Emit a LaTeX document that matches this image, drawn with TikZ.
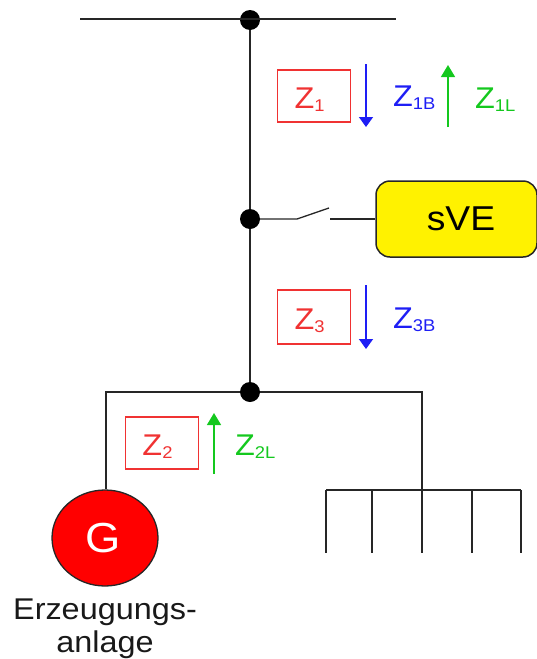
\documentclass[tikz,border=0pt]{standalone}
\usepackage{fontspec}
\setmainfont[FakeStretch=1.08]{Liberation Sans}
\usetikzlibrary{shapes.geometric,arrows.meta}
\definecolor{zred}{RGB}{240,50,50}
\definecolor{zblue}{RGB}{30,30,245}
\definecolor{zgreen}{RGB}{20,200,30}
\tikzset{
  x=1pt,y=-1pt,
  wire/.style={draw=black!85,line width=1.7pt},
  thin wire/.style={draw=black!85,line width=1.3pt},
  dotnode/.style={circle,fill=black,inner sep=0pt,minimum size=20pt},
  zbox/.style={draw=zred,line width=1.3pt,minimum width=73pt,minimum height=52pt,inner sep=0pt,text=zred,font=\fontsize{30}{32}\selectfont},
  bluearrow/.style={draw=zblue,line width=1.5pt,-{Triangle[width=14pt,length=10pt]}},
  greenarrow/.style={draw=zgreen,line width=1.5pt,-{Triangle[width=14pt,length=12pt]}},
  zlabel/.style={inner sep=0pt,font=\fontsize{30}{32}\selectfont},
}
\newcommand{\zsub}[1]{Z\raisebox{-3pt}{\fontsize{17}{19}\selectfont #1}}
\newcommand{\zin}[1]{\raisebox{-12pt}[0pt][0pt]{\zsub{#1}}\kern9pt}
\begin{document}
\begin{tikzpicture}
\useasboundingbox (0,0) rectangle (537,659);
% bus coordinates
\coordinate (busL) at (80,19);
\coordinate (busR) at (396,19);
\node[dotnode] (n1) at (250,20) {};
\node[dotnode] (n2) at (250,219) {};
\node[dotnode] (n3) at (250,392) {};
\draw[wire] (busL) -- (busR);
\draw[wire] (n1) -- (n2);
\draw[wire] (n2) -- (n3);
% switch
\node[draw=black!85,line width=1.5pt,fill=yellow,rounded corners=14pt,minimum width=161pt,minimum height=76pt,inner sep=0pt,font=\fontsize{34.5}{36}\selectfont] (sve) at (456.5,219) {\kern9pt sVE};
\coordinate (swA) at (297,219);
\coordinate (swB) at (329,208);
\coordinate (swC) at (330,219);
\draw[thin wire] (n2) -- (swA) -- (swB);
\draw[thin wire] (swC) -- (sve.west);
% impedances
\node[zbox] (z1) at (314,96) {\zin{1}};
\node[zbox,minimum height=54pt] (z3) at (314,317) {\zin{3}};
\node[zbox] (z2) at (162,443) {\zin{2}};
% arrows
\coordinate (a1s) at (366,64); \coordinate (a1e) at (366,127);
\coordinate (a2s) at (448,127); \coordinate (a2e) at (448,65);
\coordinate (a3s) at (366,285); \coordinate (a3e) at (366,349);
\coordinate (a4s) at (214,474); \coordinate (a4e) at (214,413);
\draw[bluearrow] (a1s) -- (a1e);
\draw[greenarrow] (a2s) -- (a2e);
\draw[bluearrow] (a3s) -- (a3e);
\draw[greenarrow] (a4s) -- (a4e);
\node[zlabel,text=zblue,anchor=west] (l1b) at (393,98) {\zsub{1B}};
\node[zlabel,text=zgreen,anchor=west] (l1l) at (475,100) {\zsub{1L}};
\node[zlabel,text=zblue,anchor=west] (l3b) at (393,320) {\zsub{3B}};
\node[zlabel,text=zgreen,anchor=west] (l2l) at (235,447) {\zsub{2L}};
% generator
\node[ellipse,draw=black!85,line width=1.3pt,fill=red,minimum width=106pt,minimum height=96pt,inner sep=0pt,text=white,font=\fontsize{42}{44}\selectfont] (gen) at (105,538) {G\kern4pt};
\node[align=center,inner sep=0pt,font=\fontsize{30}{33}\selectfont,text=black!90] (gtxt) at (105,628.5) {Erzeugungs-\\anlage};
\coordinate (tl) at (106,392);
\draw[wire,line join=miter] (n3) -- (tl) -- (gen.north -| tl);
% load
\coordinate (tr) at (422,392);
\coordinate (lb) at (422,490);
\draw[wire] (n3) -- (tr) -- (lb);
\coordinate (b1) at (326,490); \coordinate (b2) at (372,490); \coordinate (b4) at (472,490); \coordinate (b5) at (521,490);
\coordinate (e1) at (326,553); \coordinate (e2) at (372,553); \coordinate (e3) at (422,553); \coordinate (e4) at (472,553); \coordinate (e5) at (521,553);
\draw[thin wire] (b1) -- (b5);
\draw[thin wire] (b1) -- (e1);
\draw[thin wire] (b2) -- (e2);
\draw[thin wire] (lb) -- (e3);
\draw[thin wire] (b4) -- (e4);
\draw[thin wire] (b5) -- (e5);
\end{tikzpicture}
\end{document}
